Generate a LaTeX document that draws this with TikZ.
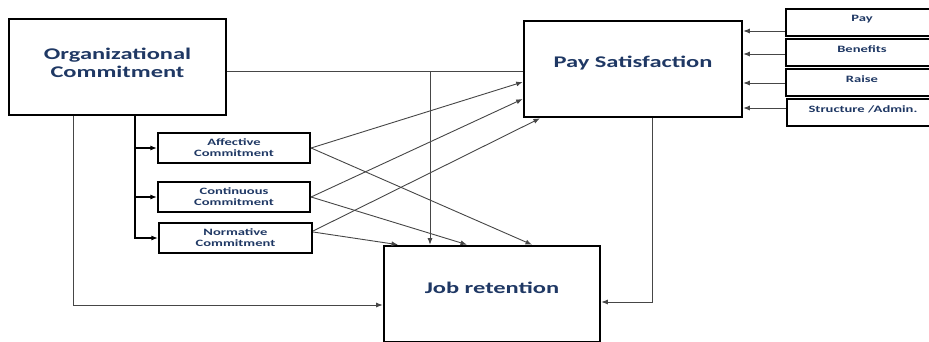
\documentclass[tikz,border=0pt]{standalone}
\usepackage{fontspec}
\newfontfamily\diagfont[FakeStretch=1.5]{Carlito}
\usetikzlibrary{arrows.meta}
\definecolor{txtnavy}{RGB}{31,56,100}
\definecolor{wire}{RGB}{70,70,70}
\begin{document}
\begin{tikzpicture}[x=1pt,y=-1pt,
  bigbox/.style={draw=black, line width=2.6pt, fill=white, minimum width=#1,
    minimum height=96pt, inner sep=0pt, align=center, text=txtnavy,
    font=\diagfont\bfseries\fontsize{16.3}{17}\selectfont},
  smallbox/.style={draw=black, line width=2.2pt, fill=white, minimum width=152pt,
    minimum height=30pt, inner sep=0pt, align=center, text=txtnavy,
    font=\diagfont\bfseries\fontsize{9.7}{11}\selectfont},
  facetbox/.style={draw=black, line width=2.2pt, fill=white, minimum width=152pt,
    minimum height=27pt, inner sep=0pt, align=center, text=txtnavy,
    font=\diagfont\bfseries\fontsize{9.7}{11}\selectfont},
  wireline/.style={draw=wire, line width=0.9pt},
  arr/.style={wireline, -{Latex[length=6.5pt,width=5pt]}},
  trunk/.style={draw=black, line width=1.3pt},
  trunkarr/.style={trunk, -{Latex[length=6.5pt,width=5pt]}}
]
\useasboundingbox (0,0) rectangle (929,341);

% main constructs
\node[bigbox=217pt] (org) at (117.5,67) {\raisebox{4pt}[\height][\depth]{\shortstack{Organizational\\[1pt]Commitment}}};
\node[bigbox=218pt] (pay) at (633,69) {\raisebox{6pt}[\height][\depth]{Pay Satisfaction}};
\node[bigbox=216pt] (job) at (492,294) {\raisebox{6pt}[\height][\depth]{Job retention}};

% components of commitment
\node[smallbox] (aff) at (234,148) {Affective\\Commitment};
\node[smallbox] (con) at (234,197) {Continuous\\Commitment};
\node[smallbox, minimum width=153pt] (nor) at (235.5,238) {Normative\\Commitment};

% facets of pay satisfaction
\node[facetbox] (fpay) at (862,22.5) {\raisebox{3.5pt}[\height][\depth]{Pay}};
\node[facetbox] (fben) at (862,52.5) {\raisebox{3.5pt}[\height][\depth]{Benefits}};
\node[facetbox] (frai) at (862,82.5) {\raisebox{3.5pt}[\height][\depth]{Raise}};
\node[facetbox] (fstr) at (863,112.5) {\raisebox{3.5pt}[\height][\depth]{Structure /Admin.}};

% commitment -> pay satisfaction, with a tap down to job retention
\draw[wireline] (org.east |- 0,71) -- (pay.west |- 0,71);
\coordinate (tap) at (430,71);
\draw[arr] (tap) -- (job.north -| tap);

% commitment -> job retention (outer route)
\draw[arr] (org.south -| 73,0) |- (job.west |- 0,305);

% commitment -> its three components
\draw[trunkarr] (org.south -| 135,0) |- (nor.west);
\draw[trunkarr] (aff.west -| 135,0) -- (aff.west);
\draw[trunkarr] (con.west -| 135,0) -- (con.west);

% components -> pay satisfaction
\draw[arr] (aff.east) -- (pay.west |- 0,82);
\draw[arr] (con.east) -- (pay.west |- 0,99);
\draw[arr] ([yshift=7pt]nor.east) -- (pay.south -| 540,0);

% components -> job retention
\draw[arr] (aff.east) -- (job.north -| 532,0);
\draw[arr] (con.east) -- (job.north -| 467,0);
\draw[arr] ([yshift=6pt]nor.east) -- (job.north -| 398,0);

% facets -> pay satisfaction
\draw[arr] (fpay.west |- 0,31) -- (pay.east |- 0,31);
\draw[arr] (fben.west |- 0,54) -- (pay.east |- 0,54);
\draw[arr] (frai.west |- 0,83) -- (pay.east |- 0,83);
\draw[arr] (fstr.west |- 0,108) -- (pay.east |- 0,108);

% pay satisfaction -> job retention
\draw[arr] (pay.south -| 652,0) |- (job.east |- 0,302);
\end{tikzpicture}
\end{document}
